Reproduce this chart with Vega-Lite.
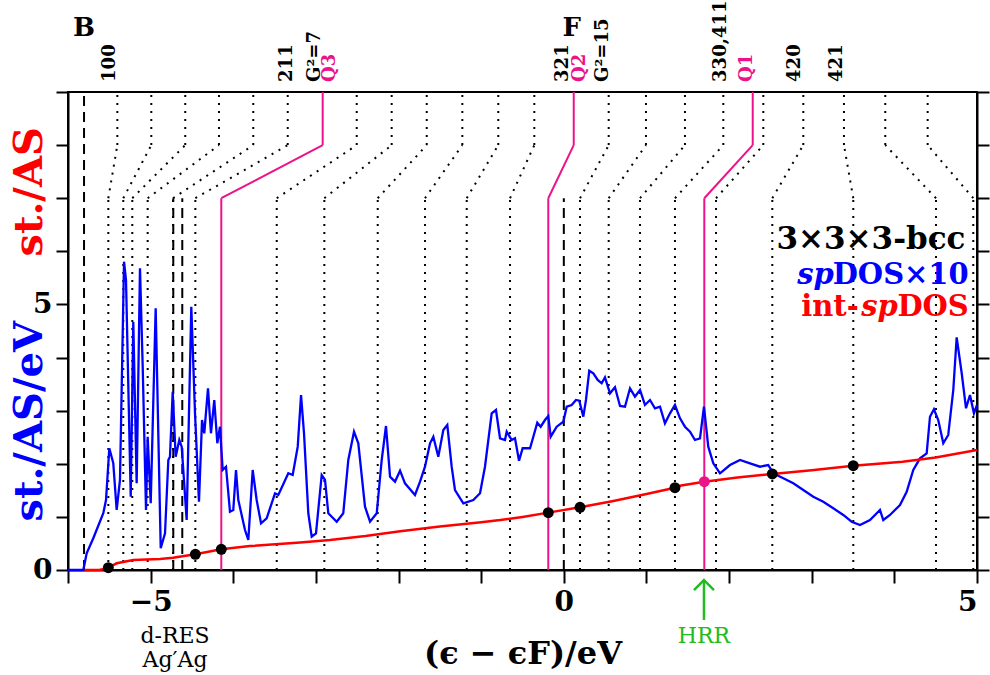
{
"$schema": "https://vega.github.io/schema/vega-lite/v6.json",
"autosize": {"type": "none"},
"width": 909, "height": 478,
"padding": {"left": 68, "top": 92, "right": 13, "bottom": 105},
"config": {"view": {"stroke": "black", "strokeWidth": 2}, "font": "DejaVu Serif"},
"datasets": {
"dos": [{"e":-6.0,"v":0},{"e":-5.815,"v":0},{"e":-5.774,"v":0.314},{"e":-5.694,"v":0.597},{"e":-5.573,"v":1.068},{"e":-5.54,"v":1.318},{"e":-5.5,"v":2.292},{"e":-5.452,"v":2.009},{"e":-5.411,"v":1.13},{"e":-5.371,"v":1.695},{"e":-5.322,"v":5.805},{"e":-5.298,"v":5.46},{"e":-5.241,"v":1.38},{"e":-5.21,"v":4.675},{"e":-5.169,"v":1.632},{"e":-5.129,"v":5.681},{"e":-5.096,"v":3.828},{"e":-5.056,"v":1.13},{"e":-5.036,"v":2.51},{"e":-4.999,"v":1.256},{"e":-4.939,"v":4.928},{"e":-4.878,"v":0.409},{"e":-4.826,"v":0.691},{"e":-4.786,"v":2.071},{"e":-4.766,"v":2.133},{"e":-4.733,"v":3.357},{"e":-4.697,"v":2.133},{"e":-4.653,"v":2.448},{"e":-4.624,"v":2.322},{"e":-4.564,"v":0.941},{"e":-4.508,"v":4.958},{"e":-4.463,"v":2.95},{"e":-4.415,"v":1.286},{"e":-4.378,"v":2.824},{"e":-4.351,"v":2.574},{"e":-4.306,"v":3.421},{"e":-4.27,"v":2.574},{"e":-4.23,"v":3.201},{"e":-4.193,"v":2.386},{"e":-4.161,"v":2.698},{"e":-4.128,"v":1.883},{"e":-4.088,"v":1.945},{"e":-4.04,"v":1.098},{"e":-4.0,"v":1.13},{"e":-3.967,"v":1.883},{"e":-3.939,"v":1.318},{"e":-3.858,"v":0.753},{"e":-3.818,"v":0.565},{"e":-3.765,"v":1.883},{"e":-3.717,"v":1.318},{"e":-3.664,"v":0.879},{"e":-3.596,"v":0.973},{"e":-3.495,"v":1.444},{"e":-3.455,"v":1.412},{"e":-3.334,"v":1.821},{"e":-3.281,"v":1.789},{"e":-3.22,"v":2.322},{"e":-3.18,"v":3.295},{"e":-3.144,"v":2.574},{"e":-3.092,"v":1.068},{"e":-3.051,"v":0.627},{"e":-2.999,"v":0.691},{"e":-2.93,"v":1.789},{"e":-2.89,"v":1.695},{"e":-2.85,"v":1.068},{"e":-2.748,"v":0.909},{"e":-2.669,"v":1.068},{"e":-2.608,"v":2.071},{"e":-2.539,"v":2.604},{"e":-2.487,"v":2.386},{"e":-2.406,"v":1.192},{"e":-2.345,"v":0.909},{"e":-2.264,"v":1.068},{"e":-2.204,"v":2.071},{"e":-2.152,"v":2.711},{"e":-2.103,"v":1.757},{"e":-2.043,"v":1.663},{"e":-1.982,"v":1.87},{"e":-1.922,"v":1.632},{"e":-1.801,"v":1.412},{"e":-1.74,"v":1.663},{"e":-1.68,"v":1.945},{"e":-1.619,"v":2.386},{"e":-1.579,"v":2.51},{"e":-1.519,"v":2.133},{"e":-1.458,"v":2.636},{"e":-1.41,"v":2.73},{"e":-1.357,"v":1.945},{"e":-1.317,"v":1.506},{"e":-1.216,"v":1.256},{"e":-1.095,"v":1.318},{"e":-1.014,"v":1.444},{"e":-0.954,"v":1.945},{"e":-0.873,"v":2.95},{"e":-0.821,"v":3.013},{"e":-0.772,"v":2.48},{"e":-0.712,"v":2.448},{"e":-0.691,"v":2.604},{"e":-0.631,"v":2.448},{"e":-0.591,"v":2.48},{"e":-0.542,"v":2.058},{"e":-0.498,"v":2.292},{"e":-0.409,"v":2.292},{"e":-0.369,"v":2.51},{"e":-0.321,"v":2.774},{"e":-0.28,"v":2.698},{"e":-0.228,"v":2.824},{"e":-0.188,"v":2.9},{"e":-0.159,"v":2.51},{"e":-0.086,"v":2.698},{"e":-0.006,"v":2.792},{"e":0.035,"v":3.075},{"e":0.095,"v":3.107},{"e":0.147,"v":3.201},{"e":0.187,"v":3.188},{"e":0.236,"v":2.887},{"e":0.268,"v":3.201},{"e":0.308,"v":3.753},{"e":0.357,"v":3.704},{"e":0.41,"v":3.578},{"e":0.458,"v":3.515},{"e":0.498,"v":3.628},{"e":0.559,"v":3.327},{"e":0.619,"v":3.44},{"e":0.68,"v":3.088},{"e":0.74,"v":3.075},{"e":0.801,"v":3.421},{"e":0.861,"v":3.263},{"e":0.922,"v":3.389},{"e":0.982,"v":3.107},{"e":1.043,"v":3.201},{"e":1.103,"v":3.045},{"e":1.164,"v":3.075},{"e":1.224,"v":2.762},{"e":1.285,"v":2.95},{"e":1.345,"v":3.107},{"e":1.406,"v":2.856},{"e":1.466,"v":2.698},{"e":1.527,"v":2.604},{"e":1.587,"v":2.448},{"e":1.648,"v":2.48},{"e":1.696,"v":3.075},{"e":1.748,"v":2.322},{"e":1.809,"v":2.009},{"e":1.89,"v":1.821},{"e":2.011,"v":1.977},{"e":2.132,"v":2.071},{"e":2.253,"v":2.009},{"e":2.374,"v":1.945},{"e":2.474,"v":1.977},{"e":2.535,"v":1.821},{"e":2.656,"v":1.727},{"e":2.777,"v":1.632},{"e":2.898,"v":1.506},{"e":3.019,"v":1.38},{"e":3.14,"v":1.286},{"e":3.261,"v":1.162},{"e":3.382,"v":1.036},{"e":3.483,"v":0.909},{"e":3.584,"v":0.847},{"e":3.705,"v":0.941},{"e":3.826,"v":1.13},{"e":3.866,"v":0.941},{"e":3.947,"v":1.036},{"e":4.068,"v":1.224},{"e":4.149,"v":1.474},{"e":4.229,"v":1.883},{"e":4.31,"v":2.103},{"e":4.391,"v":2.197},{"e":4.431,"v":2.886},{"e":4.479,"v":3.026},{"e":4.531,"v":2.824},{"e":4.592,"v":2.386},{"e":4.652,"v":2.542},{"e":4.713,"v":3.389},{"e":4.754,"v":4.381},{"e":4.815,"v":3.704},{"e":4.867,"v":3.045},{"e":4.915,"v":3.295},{"e":4.963,"v":2.95},{"e":5.0,"v":3.107}],
"intdos": [{"e":-5.8,"v":0},{"e":-5.62,"v":0},{"e":-5.52,"v":0.04},{"e":-5.41,"v":0.126},{"e":-5.21,"v":0.188},{"e":-5.05,"v":0.2},{"e":-4.887,"v":0.207},{"e":-4.73,"v":0.232},{"e":-4.46,"v":0.296},{"e":-4.145,"v":0.39},{"e":-3.8,"v":0.45},{"e":-3.19,"v":0.52},{"e":-2.83,"v":0.565},{"e":-2.4,"v":0.64},{"e":-1.98,"v":0.73},{"e":-1.5,"v":0.82},{"e":-1.0,"v":0.9},{"e":-0.77,"v":0.94},{"e":-0.5,"v":1.0},{"e":-0.188,"v":1.08},{"e":0.196,"v":1.18},{"e":0.6,"v":1.3},{"e":1.0,"v":1.43},{"e":1.345,"v":1.55},{"e":1.42,"v":1.59},{"e":1.7,"v":1.663},{"e":2.1,"v":1.74},{"e":2.523,"v":1.808},{"e":3.0,"v":1.88},{"e":3.503,"v":1.964},{"e":4.1,"v":2.04},{"e":4.5,"v":2.12},{"e":5.0,"v":2.26}],
"dots": [{"e":-5.512,"v":0.043},{"e":-4.459,"v":0.296},{"e":-4.145,"v":0.39},{"e":-0.188,"v":1.079},{"e":0.196,"v":1.181},{"e":1.345,"v":1.55},{"e":2.523,"v":1.808},{"e":3.503,"v":1.964}],
"hrrdot": [{"e":1.7,"v":1.663}],
"dotted": [{"bottom":-5.512,"top":-5.403},{"bottom":-5.331,"top":-4.992},{"bottom":-5.222,"top":-4.581},{"bottom":-5.036,"top":-4.173},{"bottom":-4.729,"top":-3.758},{"bottom":-4.459,"top":-3.341},{"bottom":-3.474,"top":-2.506},{"bottom":-2.898,"top":-2.083},{"bottom":-2.252,"top":-1.659},{"bottom":-1.68,"top":-1.228},{"bottom":-1.175,"top":-0.793},{"bottom":-0.651,"top":-0.357},{"bottom":0.196,"top":0.543},{"bottom":0.543,"top":0.994},{"bottom":0.922,"top":1.466},{"bottom":1.345,"top":1.93},{"bottom":1.842,"top":2.414},{"bottom":2.523,"top":2.898},{"bottom":3.503,"top":3.39},{"bottom":4.504,"top":3.89},{"bottom":4.955,"top":4.403}],
"qlines": [{"bottom":-4.145,"top":-2.918},{"bottom":-0.188,"top":0.12},{"bottom":1.7,"top":2.286}],
"dashed": [{"e":-5.806,"lo":0,"hi":9},{"e":-4.726,"lo":0,"hi":7},{"e":-4.617,"lo":0,"hi":7},{"e":0.0,"lo":0,"hi":7}],
"toplab": [{"e":-5.492,"t":"100"},{"e":-3.35,"t":"211"},{"e":-3.011,"t":"G²=7"},{"e":-0.01,"t":"321"},{"e":0.474,"t":"G²=15"},{"e":1.898,"t":"330,411"},{"e":2.797,"t":"420"},{"e":3.302,"t":"421"}],
"qlab": [{"e":-2.83,"t":"Q3"},{"e":0.196,"t":"Q2"},{"e":2.213,"t":"Q1"}],
"bf": [{"e":-5.806,"t":"B"},{"e":0.095,"t":"F"}],
"ytitle1": [{"e":-6.46,"v":2.8,"t":"st./AS/eV"}],
"ytitle2": [{"e":-6.46,"v":7.12,"t":"st./AS"}],
"notes": [{"e":-4.705,"v":-1.243,"t":"d-RES"},{"e":-4.705,"v":-1.695,"t":"Ag′Ag"}],
"hrr": [{"e":1.696,"v":-1.24,"t":"HRR","top":-0.19,"bot":-0.94}],
"legend": [{"e":4.86,"v":6.21,"t":"3×3×3-bcc"}],
"leg2": [{"e":4.9,"v":5.55,"a":"DOS×10","b":"sp"}],
"leg3": [{"e":4.9,"v":4.95,"a":"DOS","b":"sp","c":"int-"}]
},
"layer": [
{"data":{"name":"dotted"},"mark":{"type":"rule","color":"black","strokeWidth":2,"strokeDash":[2,6]},
 "encoding":{"x":{"field":"bottom","type":"quantitative","axis":null,"scale":{"domain":[-6,5],"nice":false,"zero":false}},"y":{"datum":0,"type":"quantitative","axis":null,"scale":{"domain":[0,9],"nice":false,"zero":false}},"y2":{"datum":7}}},
{"data":{"name":"dotted"},"mark":{"type":"rule","color":"black","strokeWidth":2,"strokeDash":[2,6]},
 "encoding":{"x":{"field":"bottom","type":"quantitative","axis":null},"x2":{"field":"top"},"y":{"datum":7,"type":"quantitative","axis":null},"y2":{"datum":8}}},
{"data":{"name":"dotted"},"mark":{"type":"rule","color":"black","strokeWidth":2,"strokeDash":[2,6]},
 "encoding":{"x":{"field":"top","type":"quantitative","axis":null},"y":{"datum":8,"type":"quantitative","axis":null},"y2":{"datum":9}}},
{"data":{"name":"dashed"},"mark":{"type":"rule","color":"black","strokeWidth":2,"strokeDash":[10,6]},
 "encoding":{"x":{"field":"e","type":"quantitative","axis":null},"y":{"field":"lo","type":"quantitative","axis":null},"y2":{"field":"hi"}}},
{"data":{"name":"qlines"},"mark":{"type":"rule","color":"#ec1289","strokeWidth":2},
 "encoding":{"x":{"field":"bottom","type":"quantitative","axis":null},"y":{"datum":0,"type":"quantitative","axis":null},"y2":{"datum":7}}},
{"data":{"name":"qlines"},"mark":{"type":"rule","color":"#ec1289","strokeWidth":2},
 "encoding":{"x":{"field":"bottom","type":"quantitative","axis":null},"x2":{"field":"top"},"y":{"datum":7,"type":"quantitative","axis":null},"y2":{"datum":8}}},
{"data":{"name":"qlines"},"mark":{"type":"rule","color":"#ec1289","strokeWidth":2},
 "encoding":{"x":{"field":"top","type":"quantitative","axis":null},"y":{"datum":8,"type":"quantitative","axis":null},"y2":{"datum":9}}},
{"data":{"name":"dos"},"mark":{"type":"line","color":"#0000ff","strokeWidth":2.3},
 "encoding":{
  "x":{"field":"e","type":"quantitative","axis":{"values":[-6,-5,-4,-3,-2,-1,0,1,2,3,4,5],"labelExpr":"datum.value % 5 === 0 ? datum.label : ''","title":"(ϵ − ϵF)/eV","grid":false,"tickSize":13,"tickWidth":2,"domainWidth":2,"domainColor":"black","tickColor":"black","labelFont":"DejaVu Serif","labelFontWeight":"bold","labelFontSize":28,"labelColor":"black","labelPadding":5,"titleFont":"DejaVu Serif","titleFontWeight":"bold","titleFontSize":32,"titleColor":"black","titlePadding":22}},
  "y":{"field":"v","type":"quantitative","axis":{"orient":"left","values":[0,1,2,3,4,5,6,7,8,9],"labelExpr":"datum.value % 5 === 0 ? datum.label : ''","title":null,"grid":false,"tickSize":12,"tickWidth":2,"domainWidth":2,"domainColor":"black","tickColor":"black","labelFont":"DejaVu Serif","labelFontWeight":"bold","labelFontSize":28,"labelColor":"black","labelPadding":4}}}},
{"data":{"name":"intdos"},"mark":{"type":"line","color":"#ff0000","strokeWidth":2.5},
 "encoding":{"x":{"field":"e","type":"quantitative","axis":null},
  "y":{"field":"v","type":"quantitative","axis":{"orient":"right","values":[0,1,2,3,4,5,6,7,8,9],"labels":false,"title":null,"grid":false,"tickSize":12,"tickWidth":2,"domainWidth":2,"domainColor":"black","tickColor":"black"}}}},
{"data":{"name":"dots"},"mark":{"type":"point","filled":true,"opacity":1,"size":120,"color":"black"},
 "encoding":{"x":{"field":"e","type":"quantitative","axis":null},"y":{"field":"v","type":"quantitative","axis":null}}},
{"data":{"name":"hrrdot"},"mark":{"type":"point","filled":true,"opacity":1,"size":120,"color":"#ec1289"},
 "encoding":{"x":{"field":"e","type":"quantitative","axis":null},"y":{"field":"v","type":"quantitative","axis":null}}},
{"data":{"name":"toplab"},"mark":{"type":"text","angle":270,"align":"left","baseline":"middle","font":"DejaVu Serif","fontWeight":"bold","fontSize":18,"color":"black"},
 "encoding":{"x":{"field":"e","type":"quantitative","axis":null},"y":{"datum":9.19,"type":"quantitative","axis":null},"text":{"field":"t"}}},
{"data":{"name":"qlab"},"mark":{"type":"text","angle":270,"align":"left","baseline":"middle","font":"DejaVu Serif","fontWeight":"bold","fontSize":18,"color":"#ec1289"},
 "encoding":{"x":{"field":"e","type":"quantitative","axis":null},"y":{"datum":9.19,"type":"quantitative","axis":null},"text":{"field":"t"}}},
{"data":{"name":"bf"},"mark":{"type":"text","align":"center","baseline":"middle","font":"DejaVu Serif","fontWeight":"bold","fontSize":26,"color":"black"},
 "encoding":{"x":{"field":"e","type":"quantitative","axis":null},"y":{"datum":10.2,"type":"quantitative","axis":null},"text":{"field":"t"}}},
{"data":{"name":"ytitle1"},"mark":{"type":"text","angle":270,"align":"center","baseline":"middle","font":"DejaVu Serif","fontWeight":"bold","fontSize":40,"color":"#0000ff"},
 "encoding":{"x":{"field":"e","type":"quantitative","axis":null},"y":{"field":"v","type":"quantitative","axis":null},"text":{"field":"t"}}},
{"data":{"name":"ytitle2"},"mark":{"type":"text","angle":270,"align":"center","baseline":"middle","font":"DejaVu Serif","fontWeight":"bold","fontSize":40,"color":"#ff0000"},
 "encoding":{"x":{"field":"e","type":"quantitative","axis":null},"y":{"field":"v","type":"quantitative","axis":null},"text":{"field":"t"}}},
{"data":{"name":"notes"},"mark":{"type":"text","align":"center","baseline":"middle","font":"DejaVu Serif","fontSize":22,"color":"black"},
 "encoding":{"x":{"field":"e","type":"quantitative","axis":null},"y":{"field":"v","type":"quantitative","axis":null},"text":{"field":"t"}}},
{"data":{"name":"hrr"},"mark":{"type":"text","align":"center","baseline":"middle","font":"DejaVu Serif","fontSize":22,"color":"#22bb22"},
 "encoding":{"x":{"field":"e","type":"quantitative","axis":null},"y":{"field":"v","type":"quantitative","axis":null},"text":{"field":"t"}}},
{"data":{"name":"hrr"},"mark":{"type":"rule","color":"#22bb22","strokeWidth":2.5},
 "encoding":{"x":{"field":"e","type":"quantitative","axis":null},"y":{"field":"top","type":"quantitative","axis":null},"y2":{"field":"bot"}}},
{"data":{"name":"hrr"},"mark":{"type":"point","shape":"M-1,1L0,0L1,1","filled":false,"color":"#22bb22","strokeWidth":2.5,"size":400,"opacity":1},
 "encoding":{"x":{"field":"e","type":"quantitative","axis":null},"y":{"field":"top","type":"quantitative","axis":null}}},
{"data":{"name":"legend"},"mark":{"type":"text","align":"right","baseline":"middle","font":"DejaVu Serif","fontWeight":"bold","fontSize":31,"color":"black"},
 "encoding":{"x":{"field":"e","type":"quantitative","axis":null},"y":{"field":"v","type":"quantitative","axis":null},"text":{"field":"t"}}},
{"data":{"name":"leg2"},"mark":{"type":"text","align":"right","baseline":"middle","font":"DejaVu Serif","fontWeight":"bold","fontSize":29,"color":"#0000ff"},
 "encoding":{"x":{"field":"e","type":"quantitative","axis":null},"y":{"field":"v","type":"quantitative","axis":null},"text":{"field":"a"}}},
{"data":{"name":"leg2"},"mark":{"type":"text","align":"right","baseline":"middle","font":"DejaVu Serif","fontWeight":"bold","fontStyle":"italic","fontSize":29,"color":"#0000ff","dx":-135},
 "encoding":{"x":{"field":"e","type":"quantitative","axis":null},"y":{"field":"v","type":"quantitative","axis":null},"text":{"field":"b"}}},
{"data":{"name":"leg3"},"mark":{"type":"text","align":"right","baseline":"middle","font":"DejaVu Serif","fontWeight":"bold","fontSize":29,"color":"#ff0000"},
 "encoding":{"x":{"field":"e","type":"quantitative","axis":null},"y":{"field":"v","type":"quantitative","axis":null},"text":{"field":"a"}}},
{"data":{"name":"leg3"},"mark":{"type":"text","align":"right","baseline":"middle","font":"DejaVu Serif","fontWeight":"bold","fontStyle":"italic","fontSize":29,"color":"#ff0000","dx":-71},
 "encoding":{"x":{"field":"e","type":"quantitative","axis":null},"y":{"field":"v","type":"quantitative","axis":null},"text":{"field":"b"}}},
{"data":{"name":"leg3"},"mark":{"type":"text","align":"right","baseline":"middle","font":"DejaVu Serif","fontWeight":"bold","fontSize":29,"color":"#ff0000","dx":-110},
 "encoding":{"x":{"field":"e","type":"quantitative","axis":null},"y":{"field":"v","type":"quantitative","axis":null},"text":{"field":"c"}}}
],
"resolve": {"axis": {"x": "independent", "y": "independent"}}
}
